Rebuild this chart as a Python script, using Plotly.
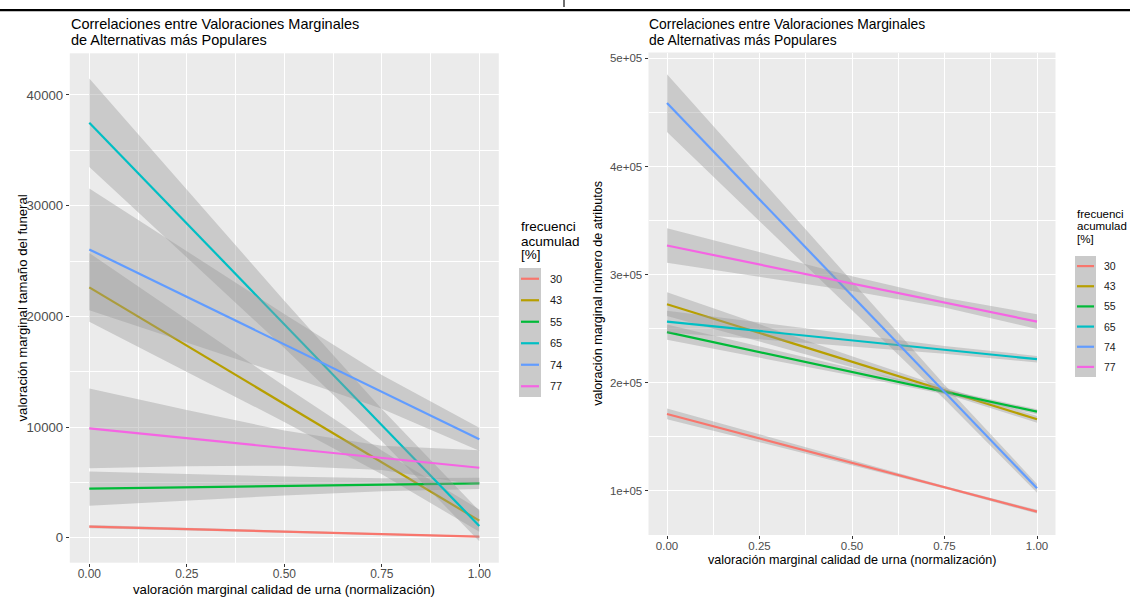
import plotly.graph_objects as go

# ---------------------------------------------------------------- data
groups = ["30", "43", "55", "65", "74", "77"]
colors = ["#F8766D", "#B79F00", "#00BA38", "#00BFC4", "#619CFF", "#F564E3"]

# regression lines: fitted value at x = 0 and x = 1
x_line = [0.0, 1.0]
# confidence bands sampled at x_band
x_band = [0.0, 0.25, 0.5, 0.75, 1.0]

# panel 1: tamaño del funeral
funeral_fit = {
    "30": [1000, 100],
    "43": [22620, 1540],
    "55": [4430, 4910],
    "65": [37500, 1060],
    "74": [26050, 8890],
    "77": [9880, 6320],
}
funeral_lower = {
    "30": [850, 650, 450, 250, 50],
    "43": [19520, 15020, 10460, 5740, 535],
    "55": [2880, 3360, 3814, 4200, 4404],
    "65": [33500, 25360, 17150, 8720, -310],
    "74": [20550, 17650, 14720, 11660, 7850],
    "77": [6280, 6450, 6510, 6110, 4730],
}
funeral_upper = {
    "30": [1150, 900, 650, 400, 150],
    "43": [25720, 19680, 13700, 7880, 2545],
    "55": [5980, 5740, 5526, 5380, 5416],
    "65": [41500, 31420, 21410, 11620, 2430],
    "74": [31550, 25870, 20220, 14700, 9930],
    "77": [13480, 11530, 9690, 8310, 7910],
}

# panel 2: número de atributos
atrib_fit = {
    "30": [171000, 80600],
    "43": [272600, 166100],
    "55": [246700, 173100],
    "65": [256500, 221700],
    "74": [458700, 102200],
    "77": [326900, 256500],
}
atrib_lower = {
    "30": [166000, 144860, 123620, 101960, 78890],
    "43": [261600, 238015, 214280, 189925, 162970],
    "55": [239700, 223160, 206490, 189350, 170780],
    "65": [246500, 240160, 233680, 226800, 218660],
    "74": [432000, 349775, 267350, 184585, 98150],
    "77": [310900, 298100, 284900, 269600, 249700],
}
atrib_upper = {
    "30": [176000, 151940, 127980, 104440, 82310],
    "43": [283600, 253935, 224420, 195525, 169230],
    "55": [253700, 233440, 213310, 193650, 175420],
    "65": [266500, 255440, 244520, 234000, 224740],
    "74": [485400, 389375, 293550, 198065, 106250],
    "77": [342900, 320500, 298500, 278600, 263300],
}

x_ticks = [0, 0.25, 0.5, 0.75, 1.0]
x_ticktext = ["0.00", "0.25", "0.50", "0.75", "1.00"]
x_minor = [0.125, 0.375, 0.625, 0.875]

funeral_ticks = [0, 10000, 20000, 30000, 40000]
funeral_ticktext = ["0", "10000", "20000", "30000", "40000"]
funeral_minor = [5000, 15000, 25000, 35000]

atrib_ticks = [100000, 200000, 300000, 400000, 500000]
atrib_ticktext = ["1e+05", "2e+05", "3e+05", "4e+05", "5e+05"]
atrib_minor = [150000, 250000, 350000, 450000]

title_lines = ["Correlaciones entre Valoraciones Marginales",
               "de Alternativas más Populares"]
x_title = "valoración marginal calidad de urna (normalización)"
y_title_left = "valoración marginal tamaño del funeral"
y_title_right = "valoración marginal número de atributos"
legend_title_lines = ["frecuenci", "acumulad", "[%]"]

# ---------------------------------------------------------------- layout helpers
W, H = 1130, 597
FONT = "Liberation Sans, Arial, sans-serif"
BAND = "rgba(153,153,153,0.4)"


def px(x):
    return x / W


def py(y):
    return 1 - y / H


fig = go.Figure()


def add_panel(fit, lower, upper, xa, ya):
    for g, c in zip(groups, colors):
        fig.add_trace(go.Scatter(
            x=x_band + x_band[::-1],
            y=upper[g] + lower[g][::-1],
            fill="toself", fillcolor=BAND, mode="lines",
            line=dict(width=0), hoverinfo="skip", showlegend=False,
            xaxis=xa, yaxis=ya))
        fig.add_trace(go.Scatter(
            x=x_line, y=fit[g], mode="lines", name=g,
            line=dict(color=c, width=2.2), showlegend=False,
            xaxis=xa, yaxis=ya))


add_panel(funeral_fit, funeral_lower, funeral_upper, "x", "y")
add_panel(atrib_fit, atrib_lower, atrib_upper, "x2", "y2")


def xaxis_cfg(domain, fsize, anchor):
    return dict(
        domain=domain, range=[-0.05, 1.05], anchor=anchor,
        tickvals=x_ticks, ticktext=x_ticktext,
        showgrid=True, gridcolor="white", gridwidth=1.1,
        minor=dict(tickvals=x_minor, showgrid=True, gridcolor="white",
                   gridwidth=0.5, ticks=""),
        ticks="outside", ticklen=3, tickcolor="#333333", tickwidth=1,
        ticklabelstandoff=-3,
        tickfont=dict(family=FONT, size=fsize, color="#4D4D4D"),
        zeroline=False, showline=False, fixedrange=True)


def yaxis_cfg(domain, rng, tv, tt, minor, fsize, anchor):
    return dict(
        domain=domain, range=rng, anchor=anchor,
        tickvals=tv, ticktext=tt,
        showgrid=True, gridcolor="white", gridwidth=1.1,
        minor=dict(tickvals=minor, showgrid=True, gridcolor="white",
                   gridwidth=0.5, ticks=""),
        ticks="outside", ticklen=3, tickcolor="#333333", tickwidth=1,
        tickfont=dict(family=FONT, size=fsize, color="#4D4D4D"),
        zeroline=False, showline=False, fixedrange=True)


L_x0, L_x1, L_y0, L_y1 = 69.8, 498.8, 53.3, 562.7
R_x0, R_x1, R_y0, R_y1 = 648.5, 1055.5, 52.5, 535.0

fig.update_layout(
    width=W, height=H, margin=dict(l=0, r=0, t=0, b=0),
    paper_bgcolor="white", plot_bgcolor="#EBEBEB",
    showlegend=False,
    xaxis=xaxis_cfg([px(L_x0), px(L_x1)], 12, "y"),
    yaxis=yaxis_cfg([py(L_y1), py(L_y0)], [-2258, 43767],
                    funeral_ticks, funeral_ticktext, funeral_minor, 13.2, "x"),
    xaxis2=xaxis_cfg([px(R_x0), px(R_x1)], 11.5, "y2"),
    yaxis2=yaxis_cfg([py(R_y1), py(R_y0)], [59000, 505500],
                     atrib_ticks, atrib_ticktext, atrib_minor, 11.5, "x2"),
)

ann = []


def text(x, y, s, size, color="black", xanchor="left", angle=0):
    ann.append(dict(x=px(x), y=py(y), xref="paper", yref="paper", text=s,
                    showarrow=False, xanchor=xanchor, yanchor="middle",
                    textangle=angle,
                    font=dict(family=FONT, size=size, color=color)))


# panel titles
text(69.3, 24, title_lines[0], 14.5)
text(69.3, 40, title_lines[1], 14.5)
text(647.3, 24, title_lines[0], 13.9)
text(647.3, 40, title_lines[1], 13.9)

# axis titles
text((L_x0 + L_x1) / 2, 589, x_title, 13.2, xanchor="center")
text((R_x0 + R_x1) / 2, 560, x_title, 12.6, xanchor="center")
text(21.5, (L_y0 + L_y1) / 2, y_title_left, 13.2, xanchor="center", angle=-90)
text(598, (R_y0 + R_y1) / 2, y_title_right, 12.6, xanchor="center", angle=-90)

shapes = []


def legend(x0, title_ys, box_y0, box_y1, key_w, label_x, tsize, lsize):
    for s, y in zip(legend_title_lines, title_ys):
        text(x0, y, s, tsize)
    shapes.append(dict(type="rect", xref="paper", yref="paper",
                       x0=px(x0), x1=px(x0 + key_w), y0=py(box_y1), y1=py(box_y0),
                       fillcolor="#CACACA", line=dict(width=0), layer="above"))
    step = (box_y1 - box_y0) / len(groups)
    for i, (g, c) in enumerate(zip(groups, colors)):
        yc = box_y0 + step * (i + 0.5)
        shapes.append(dict(type="line", xref="paper", yref="paper",
                           x0=px(x0 + 2), x1=px(x0 + key_w - 2), y0=py(yc), y1=py(yc),
                           line=dict(color=c, width=2.2), layer="above"))
        text(label_x, yc, g, lsize, color="#1A1A1A")


legend(519, [226.7, 241, 254.5], 268, 397, 22, 547.5, 13.5, 11)
legend(1075, [214, 226.5, 239], 256, 377, 21, 1102, 11.5, 10.5)

# page rule across the top, with the descender of the heading glyph above it
shapes.append(dict(type="line", xref="paper", yref="paper",
                   x0=0, x1=1, y0=py(10.2), y1=py(10.2),
                   line=dict(color="black", width=2.3)))
shapes.append(dict(type="line", xref="paper", yref="paper",
                   x0=px(564), x1=px(564), y0=py(0), y1=py(7),
                   line=dict(color="#222222", width=1.3)))

fig.update_layout(annotations=ann, shapes=shapes)
fig.write_html("out.html")
